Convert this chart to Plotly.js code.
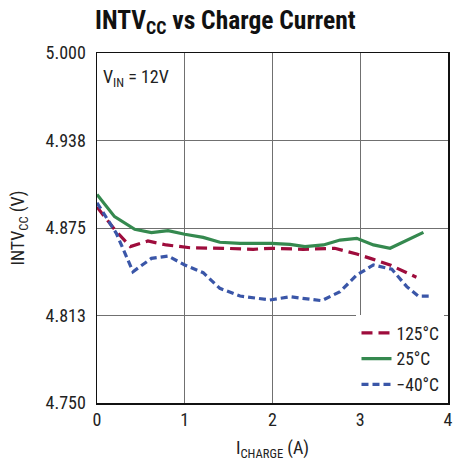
<!DOCTYPE html>
<html>
<head>
<meta charset="utf-8">
<script src="https://cdn.plot.ly/plotly-3.0.1.min.js"></script>
<style>html,body{margin:0;padding:0;background:#fff;}#chart{width:455px;height:464px;}</style>
</head>
<body>
<div id="chart"></div>
<script>
const seriesNames = ["125°C", "25°C", "\u221240°C"];
const xHot = [0, 0.2, 0.38, 0.58, 0.79, 1.06, 1.44, 1.78, 1.99, 2.35, 2.71, 2.96, 3.15, 3.34, 3.64];
const yHot = [4.890, 4.874, 4.8617, 4.8657, 4.8629, 4.8609, 4.8605, 4.8598, 4.8605, 4.8598, 4.8605, 4.8564, 4.8526, 4.8486, 4.8398];
const xRoom = [0, 0.2, 0.43, 0.62, 0.81, 1.0, 1.21, 1.4, 1.63, 1.99, 2.2, 2.37, 2.58, 2.77, 2.96, 3.15, 3.34, 3.57, 3.72];
const yRoom = [4.899, 4.8831, 4.8741, 4.8717, 4.8731, 4.8705, 4.8683, 4.8648, 4.8640, 4.8640, 4.8633, 4.8617, 4.8629, 4.8664, 4.8676, 4.8629, 4.8605, 4.8676, 4.8719];
const xCold = [0, 0.22, 0.41, 0.62, 0.81, 1.0, 1.21, 1.4, 1.63, 1.97, 2.2, 2.56, 2.77, 2.96, 3.15, 3.36, 3.53, 3.66, 3.78];
const yCold = [4.893, 4.8712, 4.8438, 4.8533, 4.855, 4.8486, 4.8431, 4.8319, 4.8264, 4.8236, 4.8259, 4.8231, 4.8295, 4.8414, 4.8486, 4.8455, 4.8331, 4.8264, 4.8264];
const yTickVals = [4.75, 4.8125, 4.875, 4.9375, 5.0];
const yTickText = ["4.750", "4.813", "4.875", "4.938", "5.000"];
const xTickVals = [0, 1, 2, 3, 4];

const font = "'Liberation Sans Narrow', 'Roboto Condensed', 'Liberation Sans', Arial, sans-serif";

const traces = [
  {x: xHot, y: yHot, name: seriesNames[0], mode: "lines", line: {color: "#9e0c3c", width: 3.2, dash: "11px,6px"}},
  {x: xRoom, y: yRoom, name: seriesNames[1], mode: "lines", line: {color: "#35894f", width: 3.2}},
  {x: xCold, y: yCold, name: seriesNames[2], mode: "lines", line: {color: "#3a56a8", width: 3.2, dash: "7px,4px"}}
];

const layout = {
  width: 455, height: 464,
  margin: {l: 97, r: 7, t: 53, b: 61},
  paper_bgcolor: "#fff", plot_bgcolor: "#fff",
  font: {family: font, size: 18, color: "#222"},
  title: {text: "<b>INTV<sub>CC</sub> vs Charge Current</b>", x: 0.209, xanchor: "left", y: 0.957, yanchor: "middle",
          font: {family: font, size: 25.5, color: "#111"}},
  xaxis: {range: [0, 4], tickvals: xTickVals, ticks: "", showgrid: true, gridcolor: "#707070", gridwidth: 1,
          zeroline: false, showline: true, linecolor: "#111", linewidth: 1.5, mirror: true,
          tickfont: {size: 18, family: font},
          title: {text: "I<sub>CHARGE</sub> (A)", font: {size: 18, family: font}, standoff: 12}},
  yaxis: {range: [4.75, 5.0], tickvals: yTickVals, ticktext: yTickText, ticks: "", showgrid: true, gridcolor: "#707070", gridwidth: 1,
          zeroline: false, showline: true, linecolor: "#111", linewidth: 1.5, mirror: true,
          tickfont: {size: 18, family: font}, ticklabelstandoff: 6,
          title: {text: "INTV<sub>CC</sub> (V)", font: {size: 18, family: font}, standoff: 16}},
  legend: {x: 0.99, xanchor: "right", y: 0.0, yanchor: "bottom", bgcolor: "#fff", borderwidth: 0,
           font: {size: 17.5, family: font}, tracegroupgap: 0, itemwidth: 30},
  showlegend: true,
  annotations: [
    {xref: "paper", yref: "paper", x: 0.01, y: 0.97, xanchor: "left", yanchor: "top", showarrow: false,
     text: "V<sub>IN</sub> = 12V", font: {size: 18, family: font}, bgcolor: "#fff"}
  ]
};

Plotly.newPlot("chart", traces, layout, {displayModeBar: false, staticPlot: true});
</script>
</body>
</html>
